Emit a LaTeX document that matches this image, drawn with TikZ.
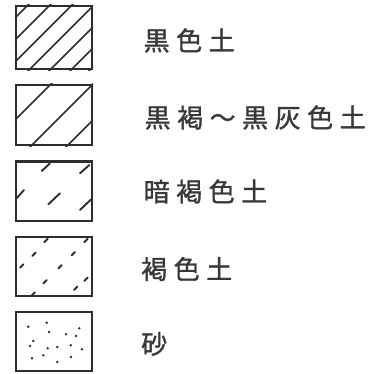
\documentclass[tikz,border=0pt]{standalone}
\usepackage{fontspec}
\newfontfamily\cjk[FakeBold=1.2]{Noto Sans CJK JP}
\definecolor{ink}{HTML}{2E2E2E}
\definecolor{txt}{HTML}{383838}
\newcommand{\gp}{\hspace{6.5pt}}
\begin{document}
\begin{tikzpicture}[x=1pt,y=-1pt,
  legendbox/.style={draw=ink,line width=2.3pt,inner sep=0pt,minimum width=76pt},
  hatch/.style={draw=ink,line width=1.7pt},
  dash seg/.style={draw=ink,line width=1.9pt,line cap=round},
  label/.style={anchor=west,inner sep=0pt,text=txt,font=\cjk\fontsize{26pt}{26pt}\selectfont}]
\useasboundingbox (0,0) rectangle (375,374);
% boxes
\node[legendbox,minimum height=63pt] (b1) at (54,37.5) {};
\node[legendbox,minimum height=60pt] (b2) at (54,115) {};
\node[legendbox,minimum height=59.5pt] (b3) at (54,191.2) {};
\node[legendbox,minimum height=59pt] (b4) at (54,266.5) {};
\node[legendbox,minimum height=59pt] (b5) at (54,341.5) {};
% box 1 hatching
\begin{scope}
\clip (b1.south west) rectangle (b1.north east);
\foreach \c in {33,55,77,99,120,141,160}
  \draw[hatch] (\c+10,-10) -- (\c-80,80);
\end{scope}
% box 2 hatching
\begin{scope}
\clip (b2.south west) rectangle (b2.north east);
\foreach \c in {135,177,213}
  \draw[hatch] (\c-75,75) -- (\c-155,155);
\end{scope}
% box 3 dashes
\begin{scope}
\clip (b3.south west) rectangle (b3.north east);
\draw[dash seg] (41.7,171) -- (50,163.3);
\draw[dash seg] (80,173.3) -- (89.3,165);
\draw[dash seg] (16,199) -- (24,190);
\draw[dash seg] (48.3,204.3) -- (60,193.3);
\draw[dash seg] (80,210) -- (91,199.5);
\end{scope}
% box 4 short ticks
\begin{scope}
\clip (b4.south west) rectangle (b4.north east);
\foreach \px/\py in {46/240.5,86/240.5,34/254.3,73.3/253.7,21.7/266,60/266.7,45/281.7,86/279.3,75.7/288.3,33.3/294}
  \draw[dash seg,line width=1.9pt] (\px-1.7,\py+1.7) -- (\px+1.7,\py-1.7);
\end{scope}
% box 5 dots
\foreach \px/\py in {28.3/326.7,46.7/322.7,49/332,79.3/328.3,66/334.3,76/336,33.3/341,30/346,47.7/348.3,57.3/347,70.7/345.3,82/349.3,43.3/355.3,32/358.3,71/357,57.3/362}
  \fill[ink] (\px,\py) circle (1.35pt);
% labels
\node[label] (t1) at (143.5,40.5) {黒\gp 色\gp 土};
\node[label] (t2) at (144.5,117.5) {黒\gp 褐\gp ～\gp 黒\gp 灰\gp 色\gp 土};
\node[label] (t3) at (143.5,191.5) {暗\gp 褐\gp 色\gp 土};
\node[label] (t4) at (141,269) {褐\gp 色\gp 土};
\node[label] (t5) at (141,344) {砂};
\end{tikzpicture}
\end{document}
